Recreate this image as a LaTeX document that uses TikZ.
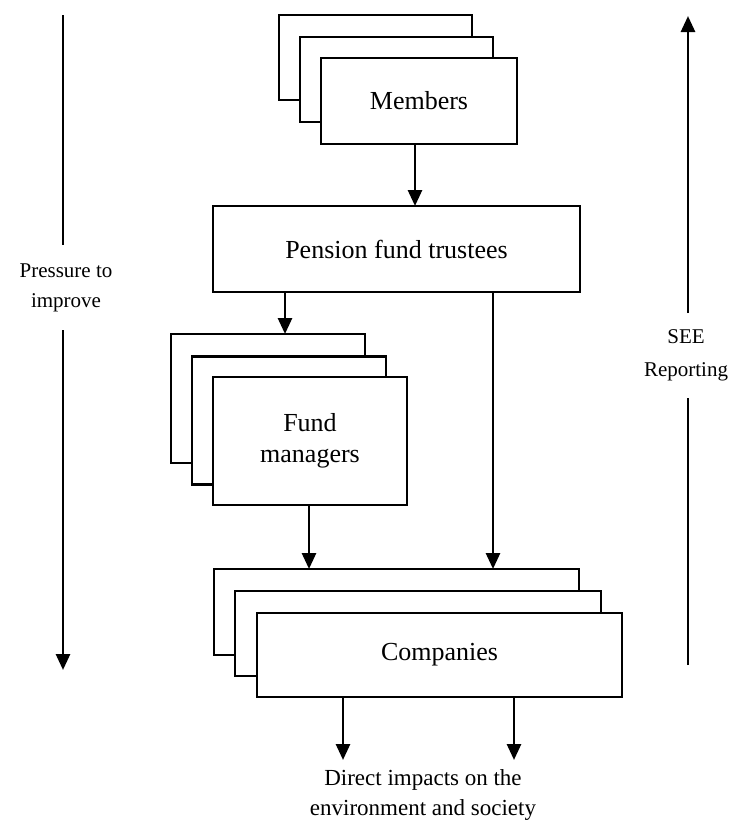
\documentclass[tikz,border=0pt]{standalone}
\usepackage{fontspec}
\setmainfont{Liberation Serif}
\usetikzlibrary{arrows.meta}
\begin{document}
\begin{tikzpicture}[x=1pt,y=-1pt,
  box/.style={draw,line width=2.8pt,fill=white,inner sep=0pt,outer sep=0pt,align=center,font=\fontsize{26}{31}\selectfont},
  arr/.style={line width=2.8pt,-{Triangle[width=14pt,length=16pt]}},
  sidelbl/.style={inner sep=0pt,outer sep=0pt,minimum height=85pt,align=center}]
\useasboundingbox (0,0) rectangle (737,823);
% Members stack
\node[box,minimum width=193pt,minimum height=85pt] (mem1) at (375.5,57.5) {};
\node[box,minimum width=193pt,minimum height=85pt] (mem2) at (396.5,79.5) {};
\node[box,minimum width=196pt,minimum height=86pt] (mem3) at (419,101) {Members};
% Pension fund trustees
\node[box,minimum width=367pt,minimum height=86pt] (pft) at (396.5,249) {Pension fund trustees};
% Fund managers stack
\node[box,minimum width=194pt,minimum height=129pt] (fm1) at (268,398.5) {};
\node[box,minimum width=194pt,minimum height=128pt] (fm2) at (289,420.5) {};
\node[box,minimum width=194pt,minimum height=128pt] (fm3) at (310,441) {Fund\\managers};
% Companies stack
\node[box,minimum width=365pt,minimum height=86pt] (co1) at (396.5,612) {};
\node[box,minimum width=366pt,minimum height=85pt] (co2) at (418,633.5) {};
\node[box,minimum width=365pt,minimum height=84pt] (co3) at (439.5,655) {Companies};
% Impacts text
\node[inner sep=0pt,align=center,font=\fontsize{23}{30}\selectfont] (imp) at (423,795) {Direct impacts on the\\environment and society};
% Arrows between boxes
\draw[arr] ([xshift=-4pt]mem3.south) -- ([xshift=-4pt]mem3.south |- pft.north);
\draw[arr] ([xshift=-111.5pt]pft.south) -- ([xshift=-111.5pt]pft.south |- fm1.north);
\draw[arr] ([xshift=96.5pt]pft.south) -- ([xshift=96.5pt]pft.south |- co1.north);
\draw[arr] ([xshift=-1pt]fm3.south) -- ([xshift=-1pt]fm3.south |- co1.north);
\coordinate (i1) at (343,760);
\coordinate (i2) at (514,760);
\draw[arr] (co3.south -| i1) -- (i1);
\draw[arr] (co3.south -| i2) -- (i2);
% Left side: pressure to improve
\node[sidelbl,font=\fontsize{21}{30}\selectfont] (press) at (66,287.5) {Pressure to\\improve};
\coordinate (ptop) at (63,15);
\coordinate (pbot) at (63,670);
\draw[line width=2.8pt] (ptop) -- (press.north -| ptop);
\draw[arr] (press.south -| pbot) -- (pbot);
% Right side: SEE reporting
\node[sidelbl,font=\fontsize{21}{33}\selectfont] (see) at (686,355.5) {SEE\\Reporting};
\coordinate (rtop) at (688,16);
\coordinate (rbot) at (688,665);
\draw[line width=2.8pt] (rbot) -- (see.south -| rbot);
\draw[arr] (see.north -| rtop) -- (rtop);
\end{tikzpicture}
\end{document}
